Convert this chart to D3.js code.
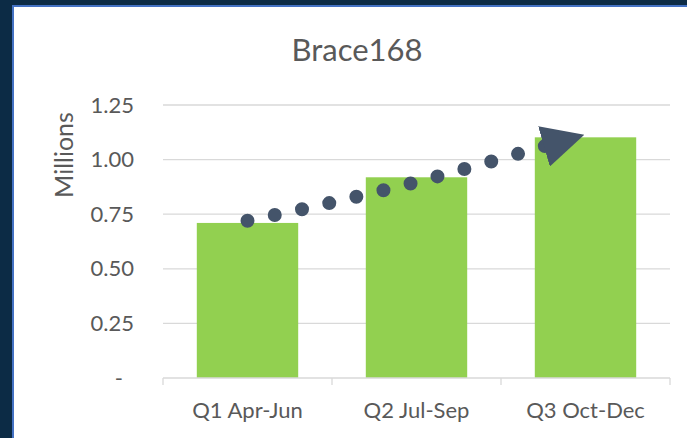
<html>
<head>
<style>
  body { margin: 0; background: #0c2b45; }
  svg { display: block; }
  text { font-family: Lato, "Open Sans", sans-serif; fill: #595959; }
</style>
</head>
<body>
<svg id="chart" width="687" height="438"></svg>

<script src="https://d3js.org/d3.v7.min.js"></script>
<script>

// data
var categories = ['Q1 Apr-Jun', 'Q2 Jul-Sep', 'Q3 Oct-Dec']
var sales = [0.71, 0.919, 1.102]          // millions
var yTicks = [0, 0.25, 0.5, 0.75, 1.0, 1.25]

// the dotted trend arrow (x in category index units, y in millions)
var trendPos = [0, 0.485, 0.966, 1.76]
var trendVal = [0.72, 0.801, 0.891, 1.062]

var svg = d3.select('#chart')

// white panel with the blue outline
svg.append('rect')
  .attr('x', 13).attr('y', 6)
  .attr('width', 680).attr('height', 440)
  .attr('fill', '#ffffff')
  .attr('stroke', '#4472c4')
  .attr('stroke-width', 2)

var plotLeft = 163, plotRight = 670, plotTop = 105, plotBottom = 378

var x = d3.scaleBand()
  .domain(categories)
  .range([plotLeft, plotRight])
  .paddingInner(0.4)
  .paddingOuter(0.2)

var y = d3.scaleLinear()
  .domain([0, 1.25])
  .range([plotBottom, plotTop])

// gridlines
svg.append('g')
  .selectAll('line')
  .data(yTicks.filter(function(d) { return d > 0 }))
  .enter().append('line')
    .attr('x1', plotLeft).attr('x2', plotRight)
    .attr('y1', function(d) { return y(d) })
    .attr('y2', function(d) { return y(d) })
    .attr('stroke', '#d9d9d9')
    .attr('stroke-width', 1.3)

// y axis (labels only)
var yAxis = svg.append('g')
  .attr('transform', 'translate(' + plotLeft + ',0)')
  .call(d3.axisLeft(y)
    .tickValues(yTicks)
    .tickSize(0)
    .tickPadding(29)
    .tickFormat(function(d) { return d == 0 ? '-' : d3.format('.2f')(d) }))
yAxis.select('.domain').remove()
yAxis.selectAll('text')
  .style('font-size', '22px')
  .style('font-family', 'Lato, sans-serif')
  .attr('fill', '#595959')
  .filter(function(d) { return d == 0 }).attr('dx', -11)

// bars
svg.selectAll('.bar')
  .data(sales)
  .enter().append('rect')
    .attr('class', 'bar')
    .attr('x', function(d, i) { return x(categories[i]) })
    .attr('width', x.bandwidth())
    .attr('y', function(d) { return y(d) })
    .attr('height', function(d) { return y(0) - y(d) })
    .attr('fill', '#92d050')

// x axis
var xAxis = svg.append('g')
  .attr('transform', 'translate(0,' + plotBottom + ')')
  .call(d3.axisBottom(x).tickSize(0).tickPadding(24))
xAxis.select('.domain')
  .attr('stroke', '#d9d9d9').attr('stroke-width', 1.3)
  .attr('d', 'M' + plotLeft + ',0H' + plotRight)
xAxis.selectAll('text')
  .style('font-size', '22px')
  .style('font-family', 'Lato, sans-serif')
  .attr('fill', '#595959')
// tick marks sit between the categories
xAxis.selectAll('.sep')
  .data(d3.range(categories.length + 1))
  .enter().append('line')
    .attr('x1', function(i) { return plotLeft + i * (plotRight - plotLeft) / categories.length })
    .attr('x2', function(i) { return plotLeft + i * (plotRight - plotLeft) / categories.length })
    .attr('y1', 0).attr('y2', 7)
    .attr('stroke', '#d9d9d9').attr('stroke-width', 1.3)

// titles
svg.append('text')
  .attr('x', 357).attr('y', 61)
  .attr('text-anchor', 'middle')
  .style('font-size', '31px')
  .text('Brace168')

svg.append('text')
  .attr('transform', 'translate(73,155) rotate(-90)')
  .attr('text-anchor', 'middle')
  .style('font-size', '25px')
  .text('Millions')

// trend arrow: dotted curve with a triangle head
svg.append('defs').append('marker')
  .attr('id', 'head')
  .attr('markerUnits', 'userSpaceOnUse')
  .attr('viewBox', '0 0 42 42')
  .attr('markerWidth', 42).attr('markerHeight', 42)
  .attr('refX', 1).attr('refY', 21)
  .attr('orient', 'auto')
  .append('path')
    .attr('d', 'M0,0L42,21L0,42Z')
    .attr('fill', '#44546a')

var xt = d3.scaleLinear()
  .domain([0, categories.length - 1])
  .range([x(categories[0]) + x.bandwidth() / 2, x(categories[categories.length - 1]) + x.bandwidth() / 2])

var trendLine = d3.line()
  .curve(d3.curveMonotoneX)
  .x(function(d, i) { return xt(trendPos[i]) })
  .y(function(d) { return y(d) })

var trend = svg.append('path')
  .attr('d', trendLine(trendVal))
  .attr('fill', 'none')
  .attr('stroke', '#44546a')
  .attr('stroke-width', 14)
  .attr('stroke-linecap', 'round')
  .attr('marker-end', 'url(#head)')

var len = trend.node().getTotalLength()
trend.attr('stroke-dasharray', '0 ' + (len / 11 - 0.01))

</script>
</body>
</html>
